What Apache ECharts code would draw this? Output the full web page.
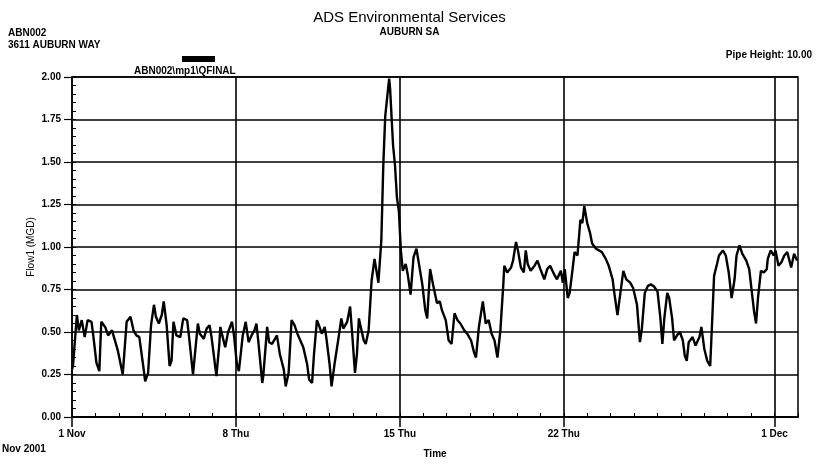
<!DOCTYPE html>
<html>
<head>
<meta charset="utf-8">
<script src="https://cdn.jsdelivr.net/npm/echarts@6/dist/echarts.min.js"></script>
<style>
  html, body { margin: 0; padding: 0; background: #fff; }
  #chart { width: 819px; height: 464px; }
</style>
</head>
<body>
<div id="chart"></div>
<script>
  // hours since 1 Nov 2001 00:00
  var hours = [0, 1, 5, 7, 10, 13, 16, 20, 22, 25, 28, 30, 34, 37, 41, 43, 47, 52, 54, 56,
    60, 63, 66, 69, 73, 75, 78, 81, 84, 86, 89, 92, 94, 97, 100, 102, 104, 107, 111, 114,
    118, 120, 124, 126, 129, 131, 135, 138, 141, 143, 148, 151, 152, 154, 157, 160, 164, 166, 169, 171,
    175, 178, 181, 184, 187, 189, 191, 195, 196, 200, 202, 205, 208, 210, 213, 217, 219, 222, 225, 228,
    231, 234, 237, 241, 243, 246, 248, 251, 253, 256, 259, 261, 264, 266, 269, 273, 276, 278, 282, 285,
    287, 290, 292, 294, 299, 301, 304, 307, 310, 312, 314, 317, 319, 321, 325, 326, 329, 331, 333, 335,
    337, 339, 342, 344, 347, 350, 353, 355, 359, 362, 364, 367, 370, 374, 377, 379, 383, 386, 389, 392,
    395, 398, 402, 405, 409, 412, 414, 417, 421, 424, 427, 430, 433, 436, 438, 439, 442, 443, 446, 450,
    452, 455, 457, 460, 463, 465, 467, 470, 474, 477, 480, 484, 487, 490, 494, 497, 501, 503, 505, 508,
    510, 513, 515, 518, 521, 523, 525, 528, 531, 533, 537, 540, 543, 547, 550, 554, 556, 559, 562, 565,
    568, 572, 575, 579, 582, 584, 587, 590, 593, 596, 600, 603, 605, 607, 610, 612, 615, 617, 620, 623,
    626, 628, 630, 632, 636, 639, 643, 645, 648, 651, 654, 656, 658, 661, 663, 667, 670, 673, 676, 679,
    681, 684, 687, 691, 694, 696, 699, 701, 703, 706, 709, 712, 713, 716, 719, 721, 724, 727, 730, 733,
    737, 740, 742, 743];

  var flow = [0.28, 0.30, 0.60, 0.51, 0.57, 0.47, 0.57, 0.56, 0.47, 0.32, 0.27, 0.56, 0.53, 0.48, 0.51, 0.50, 0.39, 0.25, 0.25, 0.56,
    0.59, 0.51, 0.48, 0.47, 0.30, 0.21, 0.26, 0.54, 0.66, 0.59, 0.55, 0.60, 0.68, 0.54, 0.30, 0.33, 0.56, 0.48, 0.47, 0.58,
    0.57, 0.47, 0.25, 0.37, 0.55, 0.49, 0.46, 0.52, 0.54, 0.47, 0.24, 0.43, 0.53, 0.48, 0.41, 0.50, 0.56, 0.48, 0.31, 0.27,
    0.48, 0.56, 0.44, 0.48, 0.51, 0.55, 0.44, 0.20, 0.24, 0.53, 0.44, 0.43, 0.46, 0.48, 0.37, 0.28, 0.18, 0.26, 0.57, 0.54,
    0.49, 0.45, 0.41, 0.31, 0.22, 0.20, 0.37, 0.57, 0.54, 0.49, 0.53, 0.45, 0.31, 0.18, 0.31, 0.46, 0.58, 0.52, 0.56, 0.65,
    0.50, 0.26, 0.37, 0.58, 0.45, 0.43, 0.51, 0.80, 0.93, 0.86, 0.79, 1.04, 1.48, 1.77, 1.99, 1.93, 1.60, 1.48, 1.29, 1.21,
    0.98, 0.86, 0.90, 0.84, 0.72, 0.94, 0.99, 0.92, 0.78, 0.63, 0.58, 0.87, 0.78, 0.67, 0.68, 0.63, 0.57, 0.45, 0.43, 0.61,
    0.57, 0.55, 0.51, 0.49, 0.45, 0.38, 0.35, 0.53, 0.68, 0.55, 0.57, 0.49, 0.45, 0.35, 0.35, 0.51, 0.78, 0.89, 0.85, 0.88,
    0.92, 1.03, 0.98, 0.88, 0.85, 0.98, 0.90, 0.86, 0.89, 0.92, 0.87, 0.81, 0.87, 0.89, 0.84, 0.81, 0.86, 0.79, 0.87, 0.70,
    0.73, 0.87, 0.97, 0.95, 1.16, 1.14, 1.24, 1.14, 1.08, 1.02, 0.99, 0.98, 0.97, 0.93, 0.89, 0.81, 0.72, 0.60, 0.73, 0.86,
    0.81, 0.79, 0.76, 0.66, 0.44, 0.52, 0.73, 0.77, 0.78, 0.77, 0.74, 0.58, 0.43, 0.58, 0.73, 0.70, 0.58, 0.45, 0.48, 0.50,
    0.45, 0.36, 0.33, 0.44, 0.47, 0.42, 0.47, 0.53, 0.40, 0.33, 0.30, 0.56, 0.83, 0.90, 0.95, 0.98, 0.95, 0.85, 0.70, 0.81,
    0.95, 1.01, 0.96, 0.92, 0.87, 0.77, 0.62, 0.55, 0.70, 0.86, 0.85, 0.87, 0.93, 0.98, 0.95, 0.98, 0.89, 0.91, 0.95, 0.97,
    0.88, 0.96, 0.95, 0.92];

  var tickHours = [0, 168, 336, 504, 720];
  var tickLabels = ['1 Nov', '8 Thu', '15 Thu', '22 Thu', '1 Dec'];
  var weekLines = [168, 336, 504, 720];

  var font = 'Liberation Sans, Arial, sans-serif';
  var chart = echarts.init(document.getElementById('chart'), null, {renderer: 'canvas'});

  var data = hours.map(function (h, i) { return [h, flow[i]]; });

  var option = {
    backgroundColor: '#fff',
    animation: false,
    textStyle: {fontFamily: font},
    title: [{
      text: 'ADS Environmental Services',
      left: 'center',
      top: 5,
      textStyle: {fontSize: 15, fontWeight: 'normal', color: '#000', fontFamily: font}
    }, {
      text: 'AUBURN SA',
      left: 'center',
      top: 22,
      textStyle: {fontSize: 10, fontWeight: 'bold', color: '#000', fontFamily: font}
    }, {
      text: 'ABN002\n3611 AUBURN WAY',
      left: 3,
      top: 22,
      textStyle: {fontSize: 10, fontWeight: 'bold', color: '#000', fontFamily: font, lineHeight: 12}
    }, {
      text: 'Pipe Height: 10.00',
      right: 2,
      top: 45,
      textStyle: {fontSize: 10, fontWeight: 'bold', color: '#000', fontFamily: font}
    }],
    legend: {
      left: 177,
      top: 51,
      icon: 'rect',
      itemWidth: 33,
      itemHeight: 6,
      formatter: function () { return ''; },
      itemStyle: {color: '#000'},
      data: ['ABN002\\mp1\\QFINAL']
    },
    graphic: [{
      type: 'text',
      left: 134,
      top: 66,
      style: {text: 'ABN002\\mp1\\QFINAL', fontSize: 10, fontWeight: 'bold', fontFamily: font, fill: '#000'}
    }, {
      type: 'text',
      left: 2,
      top: 444,
      style: {text: 'Nov 2001', fontSize: 10, fontWeight: 'bold', fontFamily: font, fill: '#000'}
    }],
    grid: {
      left: 72, right: 21, top: 77, bottom: 45,
      show: true, borderColor: '#000', borderWidth: 1.5,
      backgroundColor: 'transparent'
    },
    xAxis: [{
      type: 'value',
      min: 0, max: 744, interval: 24,
      axisLine: {lineStyle: {color: '#000', width: 1.5}},
      axisTick: {inside: true, length: 4, lineStyle: {color: '#000'}},
      axisLabel: {show: false},
      splitLine: {show: false}
    }, {
      type: 'value',
      position: 'bottom',
      min: 0, max: 744,
      name: 'Time',
      nameLocation: 'middle',
      nameGap: 32,
      nameTextStyle: {fontSize: 10, fontWeight: 'bold', color: '#000', fontFamily: font},
      axisLine: {show: false},
      axisTick: {show: true, length: 10, customValues: tickHours, lineStyle: {color: '#000', width: 1.5}},
      axisLabel: {
        customValues: tickHours,
        margin: 12,
        fontSize: 10, fontWeight: 'bold', color: '#000', fontFamily: font,
        formatter: function (v) {
          var i = tickHours.indexOf(Math.round(v));
          return i >= 0 ? tickLabels[i] : '';
        }
      },
      splitLine: {show: false}
    }],
    yAxis: [{
      type: 'value',
      min: 0, max: 2, interval: 0.25,
      name: 'Flow1 (MGD)',
      nameLocation: 'middle',
      nameGap: 36,
      nameMoveOverlap: false,
      nameTextStyle: {fontSize: 10, color: '#000', fontFamily: font},
      axisLine: {show: true, lineStyle: {color: '#000', width: 1.5}},
      axisTick: {show: true, length: 8, lineStyle: {color: '#000', width: 1.2}},
      axisLabel: {
        margin: 11,
        fontSize: 10, fontWeight: 'bold', color: '#000', fontFamily: font,
        formatter: function (v) { return v.toFixed(2); }
      },
      splitLine: {show: true, lineStyle: {color: '#000', width: 1.5}}
    }, {
      type: 'value',
      position: 'left',
      min: 0, max: 2, interval: 0.05,
      axisLine: {show: false},
      axisTick: {show: true, inside: true, length: 4, lineStyle: {color: '#000'}},
      axisLabel: {show: false},
      splitLine: {show: false}
    }],
    series: [{
      name: 'ABN002\\mp1\\QFINAL',
      type: 'line',
      xAxisIndex: 0,
      yAxisIndex: 0,
      showSymbol: false,
      lineStyle: {color: '#000', width: 2.4},
      itemStyle: {color: '#000'},
      data: data,
      markLine: {
        silent: true,
        symbol: 'none',
        label: {show: false},
        lineStyle: {color: '#000', width: 1.6, type: 'solid'},
        data: weekLines.map(function (h) { return {xAxis: h}; })
      }
    }]
  };

  chart.setOption(option);
</script>
</body>
</html>
